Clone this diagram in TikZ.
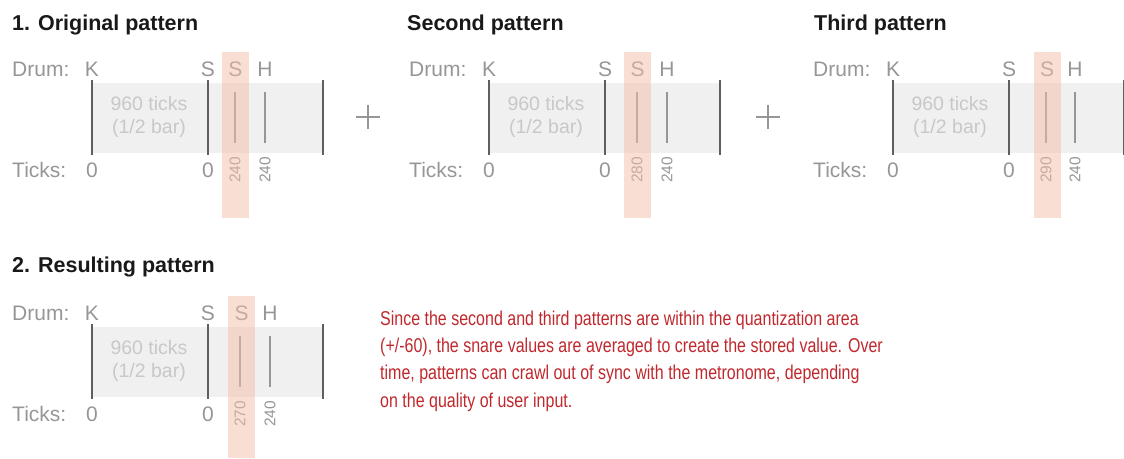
\documentclass[tikz,border=0pt]{standalone}
\usepackage{fontspec}
\setmainfont{Liberation Sans}
\newfontfamily\narrowfont[FakeStretch=0.8]{Liberation Sans}
\definecolor{rectgray}{RGB}{240,240,240}
\definecolor{linegray}{RGB}{95,95,95}
\definecolor{shortgray}{RGB}{150,150,150}
\definecolor{lblgray}{RGB}{150,150,150}
\definecolor{faintgray}{RGB}{200,200,200}
\definecolor{bandred}{RGB}{244,190,168}
\definecolor{textred}{RGB}{192,40,45}
\definecolor{titleblack}{RGB}{25,25,25}
\tikzset{
  longline/.style={draw=linegray, line width=1.8pt},
  shortline/.style={draw=shortgray, line width=1.3pt},
  lbl/.style={text=lblgray, inner sep=0pt, font=\fontsize{21}{24}\selectfont},
  num/.style={text=lblgray, inner sep=0pt, font=\fontsize{15.5}{18}\selectfont, rotate=90, anchor=west},
  faint/.style={text=faintgray, inner sep=0pt, align=center, font=\fontsize{19.5}{23}\selectfont},
  ttl/.style={text=titleblack, inner sep=0pt, anchor=base west, font=\bfseries\fontsize{21.5}{26}\selectfont},
  band/.style={fill=bandred, fill opacity=0.5},
  plussign/.style={draw=shortgray, line width=2.4pt},
}
% #1 prefix, #2 K x, #3 baseline of drum row, #4 band centre, #5 short S x, #6 H x, #7 value, #8 band bottom
\newcommand\drumpat[8]{%
  \fill[rectgray] ({#2},{#3+7}) rectangle ({#2+231},{#3+77});
  \coordinate (#1kt) at ({#2},{#3+4});      \coordinate (#1kb) at ({#2},{#3+79});
  \coordinate (#1st) at ({#2+116},{#3+4});  \coordinate (#1sb) at ({#2+116},{#3+79});
  \coordinate (#1et) at ({#2+231},{#3+4});  \coordinate (#1eb) at ({#2+231},{#3+79});
  \coordinate (#1qt) at ({#5},{#3+16});     \coordinate (#1qb) at ({#5},{#3+67});
  \coordinate (#1ht) at ({#6},{#3+16});     \coordinate (#1hb) at ({#6},{#3+67});
  \draw[longline] (#1kt) -- (#1kb);
  \draw[longline] (#1st) -- (#1sb);
  \draw[longline] (#1et) -- (#1eb);
  \draw[shortline] (#1qt) -- (#1qb);
  \draw[shortline] (#1ht) -- (#1hb);
  \node[lbl, anchor=base west] (#1drum) at ({#2-80},{#3}) {Drum:};
  \node[lbl, anchor=base] (#1K) at ({#2},{#3}) {K};
  \node[lbl, anchor=base] (#1S) at ({#2+116},{#3}) {S};
  \node[lbl, anchor=base] (#1S2) at ({#4},{#3}) {S};
  \node[lbl, anchor=base] (#1H) at ({#6},{#3}) {H};
  \node[lbl, anchor=base west] (#1ticks) at ({#2-80},{#3+101}) {Ticks:};
  \node[lbl, anchor=base] (#1z1) at ({#2},{#3+101}) {0};
  \node[lbl, anchor=base] (#1z2) at ({#2+116},{#3+101}) {0};
  \node[num] (#1v) at ({#5},{#3+107}) {#7};
  \node[num] (#1h) at ({#6},{#3+107}) {240};
  \node[faint] (#1bar) at ({#2+57},{#3+41}) {960 ticks\\(1/2 bar)};
  \fill[band] ({#4-13.5},{#3-24}) rectangle ({#4+13.5},{#8});
}
\begin{document}
\begin{tikzpicture}[x=1pt,y=-1pt]
\useasboundingbox (0,0) rectangle (1124,458);
\node[ttl] (t1) at (12,30) {1. Original pattern};
\node[ttl] (t2) at (407,30) {Second pattern};
\node[ttl] (t3) at (814,30) {Third pattern};
\node[ttl] (t4) at (12,272) {2. Resulting pattern};
\drumpat{a}{92}{76}{235.5}{235}{265}{240}{218}
\drumpat{b}{489}{76}{637.5}{637}{667}{280}{218}
\drumpat{c}{893}{76}{1047}{1046}{1075}{290}{218}
\drumpat{d}{92}{320}{241.5}{240}{270}{270}{458}
\coordinate (p1c) at (368,117);
\coordinate (p2c) at (768,117);
\draw[plussign] ([xshift=-12pt]p1c) -- ([xshift=12pt]p1c);
\draw[plussign] ([yshift=-12pt]p1c) -- ([yshift=12pt]p1c);
\draw[plussign] ([xshift=-12pt]p2c) -- ([xshift=12pt]p2c);
\draw[plussign] ([yshift=-12pt]p2c) -- ([yshift=12pt]p2c);
\node[anchor=base west, inner sep=0pt, align=left, text=textred,
      font=\narrowfont\fontsize{20}{27.3}\selectfont] (para) at (380,407)
  {Since the second and third patterns are within the quantization area\\
   (+/-60), the snare values are averaged to create the stored value. Over\\
   time, patterns can crawl out of sync with the metronome, depending\\
   on the quality of user input.};
\end{tikzpicture}
\end{document}
